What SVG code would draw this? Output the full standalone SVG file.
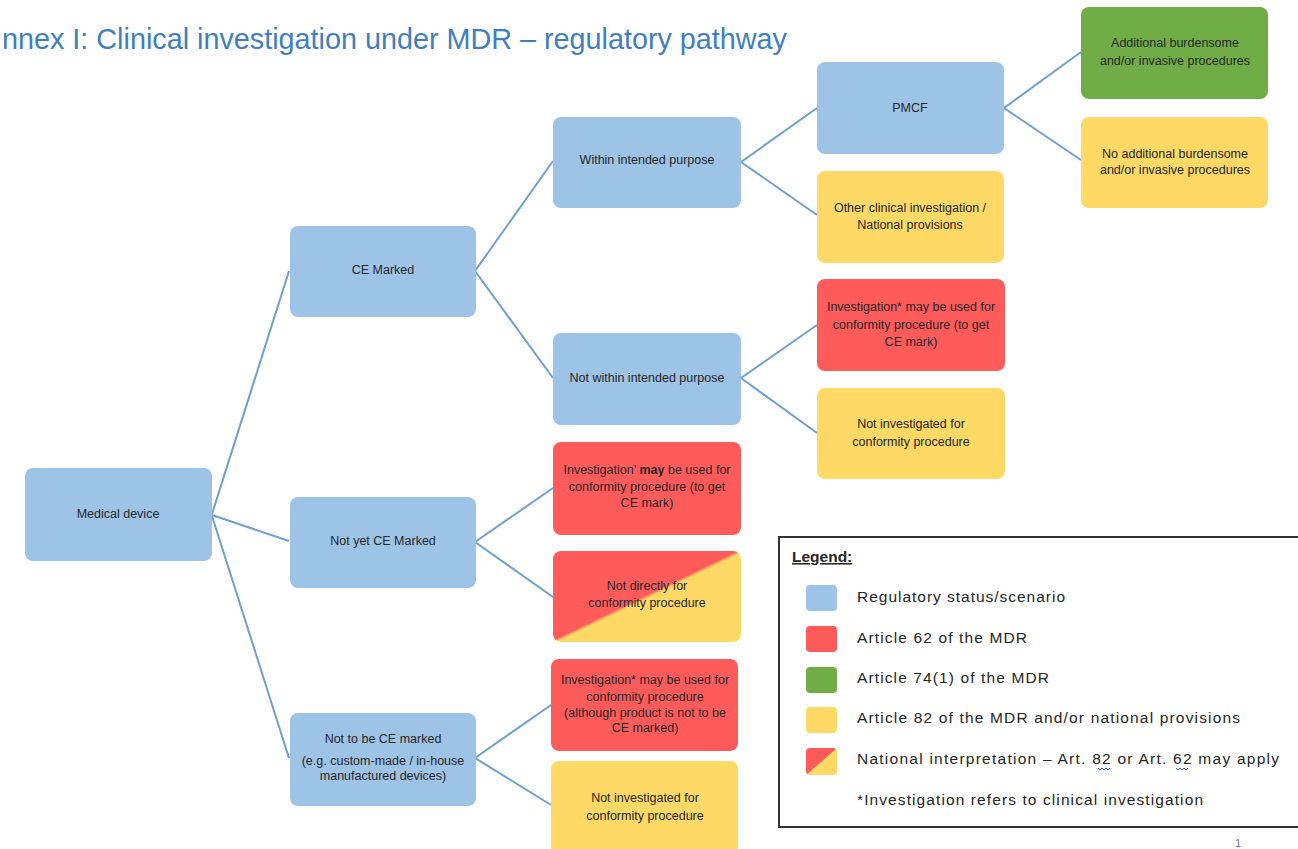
<svg xmlns="http://www.w3.org/2000/svg" width="1298" height="849" viewBox="0 0 1298 849">
  <style>
    .title { font-family: "Liberation Sans", Arial, sans-serif; font-size: 29px; fill: #3f7fc1; }
    .box { stroke: none; }
    .blue { fill: #9dc3e6; }
    .red { fill: #ff5b5b; }
    .yellow { fill: #ffd966; }
    .green { fill: #70ad47; }
    .lbl { font-family: "Liberation Sans", Arial, sans-serif; font-size: 12.5px; fill: #262626; text-anchor: middle; }
    .conn line { stroke: #6f9fd2; stroke-width: 2; }
    .legtxt { font-family: "Liberation Sans", Arial, sans-serif; font-size: 15.5px; fill: #262626; }
    .squig { fill: none; stroke: #3355cc; stroke-width: 1; }
  </style>
  <defs>
    <linearGradient id="split" x1="0" y1="0" x2="1" y2="1">
      <stop offset="0" stop-color="#ff5b5b"/>
      <stop offset="0.49" stop-color="#ff5b5b"/>
      <stop offset="0.51" stop-color="#ffd966"/>
      <stop offset="1" stop-color="#ffd966"/>
    </linearGradient>
  </defs>

  <rect width="1298" height="849" fill="#ffffff"/>

  <text class="title" x="2" y="49" textLength="785" lengthAdjust="spacingAndGlyphs">nnex I: Clinical investigation under MDR – regulatory pathway</text>

  <!-- connectors -->
  <g id="connectors" class="conn">
    <line x1="212" y1="514" x2="289" y2="271"/>
    <line x1="212" y1="515" x2="289" y2="541"/>
    <line x1="212" y1="516" x2="289" y2="758"/>
    <line x1="475" y1="271" x2="553" y2="161"/>
    <line x1="475" y1="271" x2="553" y2="378"/>
    <line x1="741" y1="162" x2="817" y2="108"/>
    <line x1="741" y1="162" x2="817" y2="215"/>
    <line x1="1004" y1="108" x2="1081" y2="52"/>
    <line x1="1004" y1="108" x2="1081" y2="160"/>
    <line x1="741" y1="378" x2="817" y2="325"/>
    <line x1="741" y1="378" x2="817" y2="433"/>
    <line x1="475" y1="542" x2="553" y2="488"/>
    <line x1="475" y1="542" x2="553" y2="597"/>
    <line x1="475" y1="758" x2="551" y2="705"/>
    <line x1="475" y1="758" x2="551" y2="805"/>
  </g>

  <!-- nodes -->
  <g id="medical-device">
    <rect class="box blue" x="25" y="468" width="187" height="93" rx="8"/>
    <text class="lbl" x="118" y="518">Medical device</text>
  </g>
  <g id="ce-marked">
    <rect class="box blue" x="290" y="226" width="186" height="91" rx="8"/>
    <text class="lbl" x="383" y="274">CE Marked</text>
  </g>
  <g id="not-yet-ce">
    <rect class="box blue" x="290" y="497" width="186" height="91" rx="8"/>
    <text class="lbl" x="383" y="545">Not yet CE Marked</text>
  </g>
  <g id="not-to-be-ce">
    <rect class="box blue" x="290" y="713" width="186" height="93" rx="8"/>
    <text class="lbl" x="383" y="743">Not to be CE marked</text>
    <text class="lbl" x="383" y="765">(e.g. custom-made / in-house</text>
    <text class="lbl" x="383" y="780">manufactured devices)</text>
  </g>
  <g id="within-purpose">
    <rect class="box blue" x="553" y="117" width="188" height="91" rx="8"/>
    <text class="lbl" x="647" y="164">Within intended purpose</text>
  </g>
  <g id="not-within-purpose">
    <rect class="box blue" x="553" y="333" width="188" height="92" rx="8"/>
    <text class="lbl" x="647" y="382">Not within intended purpose</text>
  </g>
  <g id="pmcf">
    <rect class="box blue" x="817" y="62" width="187" height="92" rx="8"/>
    <text class="lbl" x="910" y="112">PMCF</text>
  </g>
  <g id="other-clinical">
    <rect class="box yellow" x="817" y="171" width="187" height="92" rx="8"/>
    <text class="lbl" x="910" y="212">Other clinical investigation /</text>
    <text class="lbl" x="910" y="229">National provisions</text>
  </g>
  <g id="additional-burdensome">
    <rect class="box green" x="1081" y="7" width="187" height="92" rx="8"/>
    <text class="lbl" x="1175" y="47">Additional burdensome</text>
    <text class="lbl" x="1175" y="65">and/or invasive procedures</text>
  </g>
  <g id="no-additional-burdensome">
    <rect class="box yellow" x="1081" y="117" width="187" height="91" rx="8"/>
    <text class="lbl" x="1175" y="158">No additional burdensome</text>
    <text class="lbl" x="1175" y="174">and/or invasive procedures</text>
  </g>
  <g id="investigation-ce">
    <rect class="box red" x="817" y="279" width="188" height="92" rx="8"/>
    <text class="lbl" x="911" y="311">Investigation* may be used for</text>
    <text class="lbl" x="911" y="329">conformity procedure (to get</text>
    <text class="lbl" x="911" y="346">CE mark)</text>
  </g>
  <g id="not-investigated-1">
    <rect class="box yellow" x="817" y="388" width="188" height="91" rx="8"/>
    <text class="lbl" x="911" y="428">Not investigated for</text>
    <text class="lbl" x="911" y="446">conformity procedure</text>
  </g>
  <g id="investigation-not-yet">
    <rect class="box red" x="553" y="442" width="188" height="93" rx="8"/>
    <text class="lbl" x="647" y="474">Investigation’ <tspan font-weight="bold">may</tspan> be used for</text>
    <text class="lbl" x="647" y="491">conformity procedure (to get</text>
    <text class="lbl" x="647" y="507">CE mark)</text>
  </g>
  <g id="not-directly">
    <rect class="box" fill="url(#split)" x="553" y="551" width="188" height="91" rx="8"/>
    <text class="lbl" x="647" y="590">Not directly for</text>
    <text class="lbl" x="647" y="607">conformity procedure</text>
  </g>
  <g id="investigation-custom">
    <rect class="box red" x="551" y="659" width="187" height="92" rx="8"/>
    <text class="lbl" x="645" y="684">Investigation* may be used for</text>
    <text class="lbl" x="645" y="701">conformity procedure</text>
    <text class="lbl" x="645" y="717">(although product is not to be</text>
    <text class="lbl" x="645" y="732">CE marked)</text>
  </g>
  <g id="not-investigated-2">
    <rect class="box yellow" x="551" y="761" width="187" height="94" rx="8"/>
    <text class="lbl" x="645" y="802">Not investigated for</text>
    <text class="lbl" x="645" y="820">conformity procedure</text>
  </g>

  <!-- legend -->
  <g id="legend">
    <rect x="779" y="537" width="525" height="290" fill="#ffffff" stroke="#333333" stroke-width="2"/>
    <text class="legtxt" x="792" y="562" font-weight="bold" text-decoration="underline">Legend:</text>
    <rect class="blue" x="806" y="585" width="31" height="26" rx="4"/>
    <rect class="red" x="806" y="626" width="31" height="26" rx="4"/>
    <rect class="green" x="806" y="667" width="31" height="26" rx="4"/>
    <rect class="yellow" x="806" y="707" width="31" height="26" rx="4"/>
    <rect fill="url(#split)" x="806" y="748" width="31" height="27" rx="4"/>
    <text class="legtxt" x="857" y="602" textLength="208" lengthAdjust="spacing">Regulatory status/scenario</text>
    <text class="legtxt" x="857" y="643" textLength="170" lengthAdjust="spacing">Article 62 of the MDR</text>
    <text class="legtxt" x="857" y="683" textLength="192" lengthAdjust="spacing">Article 74(1) of the MDR</text>
    <text class="legtxt" x="857" y="723" textLength="383" lengthAdjust="spacing">Article 82 of the MDR and/or national provisions</text>
    <text class="legtxt" x="857" y="764" textLength="422" lengthAdjust="spacing">National interpretation – Art. 82 or Art. 62 may apply</text>
    <path class="squig" d="M1098 768 l2 2 l2 -2 l2 2 l2 -2 l2 2 l2 -2"/>
    <path class="squig" d="M1176 768 l2 2 l2 -2 l2 2 l2 -2 l2 2 l2 -2"/>
    <text class="legtxt" x="857" y="805" textLength="346" lengthAdjust="spacing">*Investigation refers to clinical investigation</text>
  </g>

  <text x="1238" y="847" font-family="Liberation Sans, Arial, sans-serif" font-size="11" fill="#777777" text-anchor="middle">1</text>
</svg>
